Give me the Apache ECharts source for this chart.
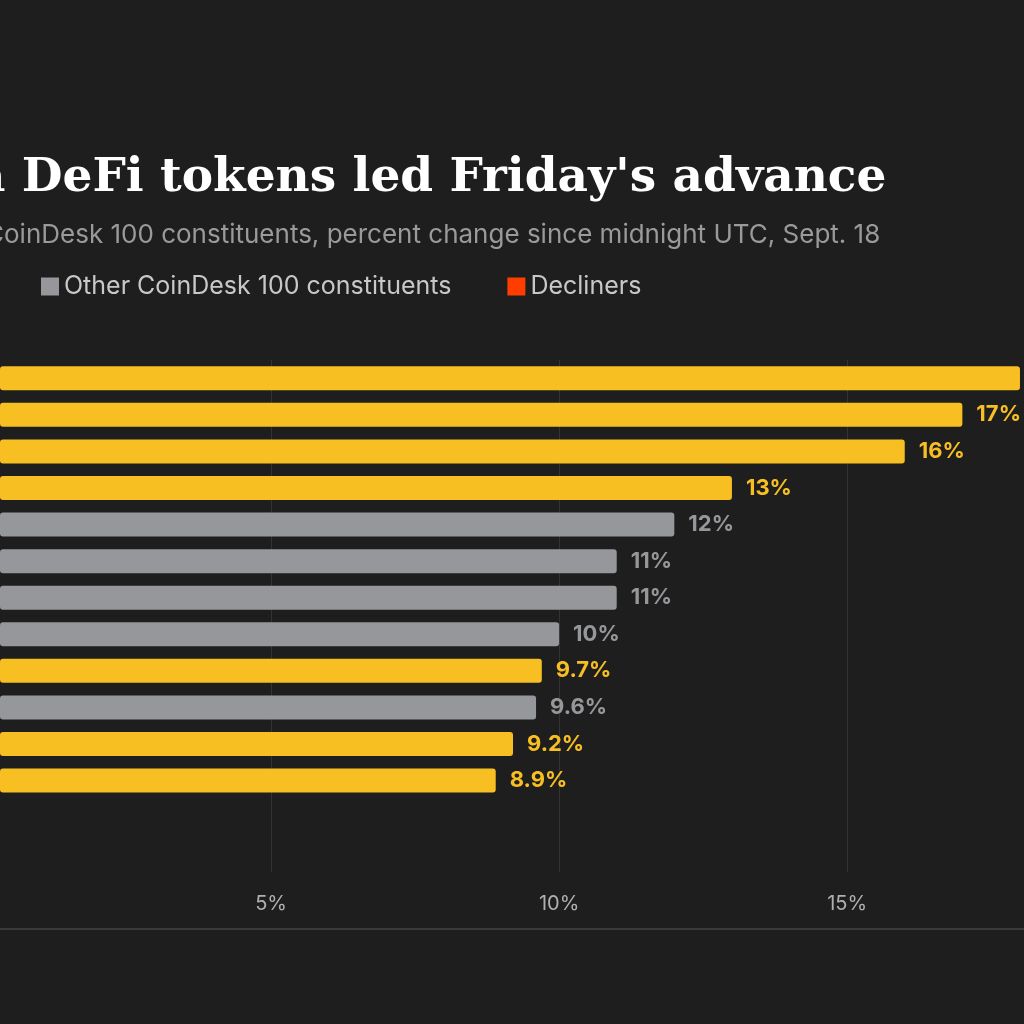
<!DOCTYPE html>
<html>
<head>
<meta charset="utf-8">
<script src="https://cdn.jsdelivr.net/npm/echarts@6/dist/echarts.min.js"></script>
<style>html,body{margin:0;background:#1e1e1e}#c{width:1024px;height:1024px}</style>
</head>
<body>
<div id="c"></div>
<script>
// rank order, top to bottom (names are off-canvas in the reference)
const categories = ['1', '2', '3', '4', '5', '6', '7', '8', '9', '10', '11', '12', '', ''];
const changes = [18.0, 17.0, 16.0, 13.0, 12.0, 11.0, 11.0, 10.0, 9.7, 9.6, 9.2, 8.9];
const groups = ['defi', 'defi', 'defi', 'defi', 'other', 'other', 'other', 'other', 'defi', 'other', 'defi', 'defi'];
const tickValues = [5, 10, 15];

const YELLOW = '#f8bf22', GREY = '#96979b', RED = '#ff3d00';

function pick(g) {
  return changes.map((v, i) => (groups[i] === g ? v : null));
}
function fmt(p) {
  const v = p.value;
  return v >= 10 ? Math.round(v) + '%' : v.toFixed(1) + '%';
}
function barSeries(name, g, color) {
  return {
    name, type: 'bar', stack: 'all', data: pick(g), barWidth: 24, z: 3,
    itemStyle: { color, borderRadius: 3 },
    label: { show: true, position: 'right', distance: 14, color, fontFamily: 'Inter', fontWeight: 'bold', fontSize: 22, formatter: fmt },
    silent: true
  };
}

const chart = echarts.init(document.getElementById('c'));
chart.setOption({
  backgroundColor: '#1e1e1e',
  animation: false,
  title: [
    { text: "a DeFi tokens led Friday's advance", left: -30, top: 150,
      textStyle: { color: '#fff', fontFamily: 'DejaVu Serif', fontWeight: 'bold', fontSize: 47 } },
    { text: 'CoinDesk 100 constituents, percent change since midnight UTC, Sept. 18', left: -20, top: 217,
      textStyle: { color: '#9a9a9a', fontFamily: 'Inter', fontWeight: 'normal', fontSize: 26 } }
  ],
  legend: {
    left: 36, top: 269, itemWidth: 18, itemHeight: 18, itemGap: 56, icon: 'rect',
    data: ['Other CoinDesk 100 constituents', 'Decliners'],
    textStyle: { color: '#c8c8c8', fontFamily: 'Inter', fontSize: 25 }
  },
  grid: { left: 0, right: 0, top: 360, bottom: 152, containLabel: false },
  xAxis: {
    type: 'value', min: 0.295, max: 18.07,
    axisLine: { show: false }, axisTick: { show: false },
    splitLine: { show: false },
    axisLabel: { margin: 22, color: '#b0b0b0', fontFamily: 'Inter', fontSize: 20,
      customValues: tickValues, formatter: v => v + '%' }
  },
  yAxis: {
    type: 'category', inverse: true, data: categories,
    axisLine: { show: false }, axisTick: { show: false }, axisLabel: { show: false }
  },
  graphic: [
    { type: 'line', shape: { x1: 0, y1: 929, x2: 1024, y2: 929 }, style: { stroke: '#3a3a3a', lineWidth: 2 } }
  ],
  series: [
    barSeries('DeFi', 'defi', YELLOW),
    barSeries('Other CoinDesk 100 constituents', 'other', GREY),
    Object.assign(barSeries('Decliners', 'decl', RED), {
      z: 1,
      markLine: {
        z: 1, silent: true, symbol: 'none', label: { show: false },
        lineStyle: { color: '#333333', width: 1, type: 'solid' },
        data: tickValues.map(v => ({ xAxis: v }))
      }
    })
  ]
});
</script>
</body>
</html>
